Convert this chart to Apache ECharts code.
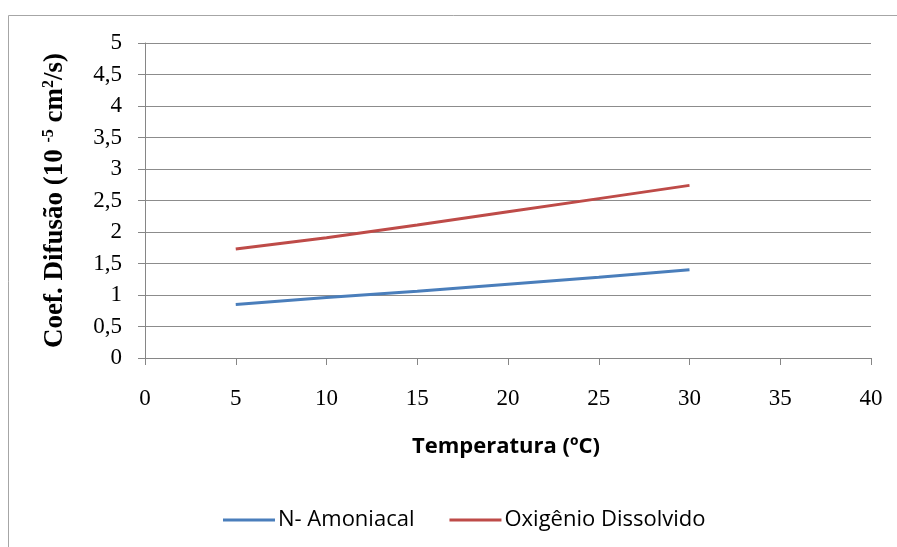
<!DOCTYPE html>
<html><head><meta charset="utf-8">
<script src="https://cdn.jsdelivr.net/npm/echarts@6/dist/echarts.min.js"></script>
<style>html,body{margin:0;padding:0;background:#fff}#c{width:897px;height:547px}</style>
</head><body><div id="c"></div>
<script>
const temps = [5, 10, 15, 20, 25, 30];
const nAmoniacal = [0.85, 0.96, 1.06, 1.17, 1.28, 1.40];
const oxigenio = [1.73, 1.91, 2.11, 2.32, 2.53, 2.74];
const seriesNames = ['N- Amoniacal', 'Oxigênio Dissolvido'];
const xTitle = 'Temperatura (ºC)';

const chart = echarts.init(document.getElementById('c'));
chart.setOption({
  animation: false,
  backgroundColor: '#fff',
  graphic: [{type: 'rect', shape: {x: 8.5, y: 15.5, width: 900, height: 540}, style: {fill: 'none', stroke: '#a6a6a6', lineWidth: 1}}],
  grid: {left: 145, right: 26, top: 43, bottom: 189},
  legend: {
    bottom: 11, left: 218, itemWidth: 52, itemHeight: 3, itemGap: 35, icon: 'rect',
    textStyle: {fontFamily: 'Open Sans', fontSize: 22, color: '#000', padding: [0, 0, 0, -2]},
    data: seriesNames
  },
  xAxis: {
    type: 'value', min: 0, max: 40, interval: 5,
    name: xTitle, nameLocation: 'middle', nameGap: 78,
    nameTextStyle: {fontFamily: 'Open Sans', fontWeight: 'bold', fontSize: 22, color: '#000', padding: [0, 4, 0, 0]},
    axisLine: {lineStyle: {color: '#868686'}},
    axisTick: {show: true, length: 7, lineStyle: {color: '#868686'}},
    axisLabel: {fontFamily: 'Liberation Serif', fontSize: 23, color: '#000', margin: 29},
    splitLine: {show: false}
  },
  yAxis: {
    type: 'value', min: 0, max: 5, interval: 0.5,
    name: '{n|Coef. Difusão (10 }{s|-5}{n| cm}{s|2}{n|/s)}', nameLocation: 'middle', nameGap: 76,
    nameRotate: 90,
    nameTextStyle: {
      rich: {
        n: {fontFamily: 'Liberation Serif', fontWeight: 'bold', fontSize: 27, color: '#000'},
        s: {fontFamily: 'Liberation Serif', fontWeight: 'bold', fontSize: 16, color: '#000', verticalAlign: 'top', padding: [0, 0, 12, 0]}
      }
    },
    axisLine: {show: true, lineStyle: {color: '#868686'}},
    axisTick: {show: true, length: 7, lineStyle: {color: '#868686'}},
    axisLabel: {fontFamily: 'Liberation Serif', fontSize: 23, color: '#000', margin: 23,
      formatter: v => String(v).replace('.', ',')},
    splitLine: {show: true, lineStyle: {color: '#8c8c8c', width: 1}}
  },
  series: [
    {name: seriesNames[0], type: 'line', data: temps.map((t, i) => [t, nAmoniacal[i]]),
     showSymbol: false, symbol: 'none', lineStyle: {color: '#4a7ebb', width: 3}, itemStyle: {color: '#4a7ebb'}},
    {name: seriesNames[1], type: 'line', data: temps.map((t, i) => [t, oxigenio[i]]),
     showSymbol: false, symbol: 'none', lineStyle: {color: '#be4b48', width: 3}, itemStyle: {color: '#be4b48'}}
  ]
});
</script></body></html>
